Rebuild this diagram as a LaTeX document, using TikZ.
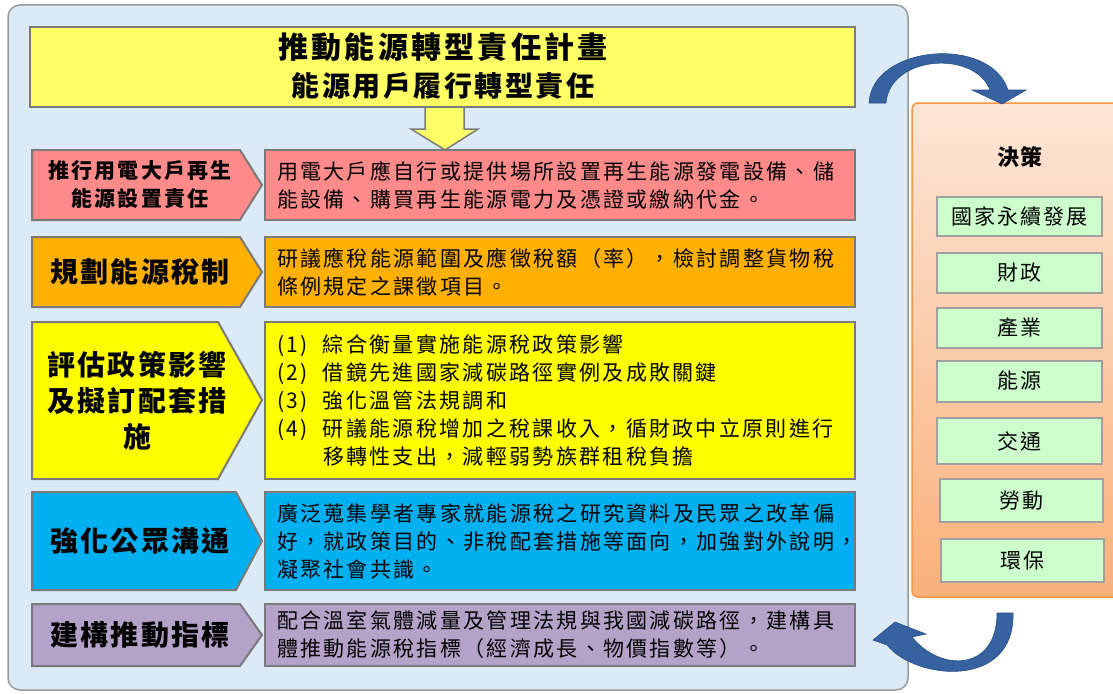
\documentclass[tikz,border=0pt]{standalone}
\usepackage{fontspec}
\setmainfont{Noto Sans CJK TC}[Script=CJK, Language=Chinese Traditional]
\definecolor{panelblue}{HTML}{DBEAF4}
\definecolor{panelgray}{HTML}{9A9A9A}
\definecolor{boxgray}{HTML}{7A7A7A}
\definecolor{titleyellow}{HTML}{FFFF66}
\definecolor{rowred}{HTML}{FF8A8A}
\definecolor{roworange}{HTML}{FFB000}
\definecolor{rowyellow}{HTML}{FFFF00}
\definecolor{rowblue}{HTML}{00B0F0}
\definecolor{rowpurple}{HTML}{B4A2C8}
\definecolor{peachtop}{HTML}{FDE6D6}
\definecolor{peachbot}{HTML}{F9B07A}
\definecolor{orangeedge}{HTML}{F79646}
\definecolor{greenfill}{HTML}{CCFFCC}
\definecolor{greenedge}{HTML}{A0A0A0}
\definecolor{arrowblue}{HTML}{36629F}
\definecolor{arrowedge}{HTML}{294F86}
\newcommand{\bodyfont}{\fontsize{21}{28}\selectfont\addfontfeatures{LetterSpace=11}}
\newcommand{\labelfont}{\fontsize{28}{36}\selectfont\bfseries\addfontfeatures{LetterSpace=8}}
\newcommand{\smalllabelfont}{\fontsize{21}{28}\selectfont\bfseries\addfontfeatures{LetterSpace=10}}
\newcommand{\greenfont}{\fontsize{21}{24}\selectfont\addfontfeatures{LetterSpace=10}}
\begin{document}
\begin{tikzpicture}[x=1pt,y=-1pt,
  box/.style={draw=boxgray, line width=2pt},
  rbox/.style={box, minimum width=590pt, text width=566pt, inner xsep=12pt, inner ysep=0pt, align=left, font=\bodyfont},
  lbl/.style={align=center, inner sep=0pt},
  gbox/.style={draw=greenedge, line width=2pt, fill=greenfill, minimum width=165pt, inner sep=0pt, font=\greenfont},
  blockarrow/.style={fill=arrowblue, draw=arrowedge, line width=0.6pt}]
\useasboundingbox (0,0) rectangle (1113,693);
\fill[white] (0,0) rectangle (1113,693);
% main panel
\draw[panelgray, line width=1.5pt, fill=panelblue, rounded corners=12pt] (8,5) rectangle (908,690);
% right panel
\draw[orangeedge, line width=1.5pt, top color=peachtop, bottom color=peachbot, rounded corners=6pt] (912,103) rectangle (1130,597);
% title
\node[box, fill=titleyellow, minimum width=825pt, minimum height=80pt, inner sep=0pt] (title) at (442.5,67) {};
\node[lbl, font=\fontsize{30}{38}\selectfont\bfseries\addfontfeatures{LetterSpace=11}] (t1) at (443,47) {推動能源轉型責任計畫};
\node[lbl, font=\fontsize{28}{36}\selectfont\bfseries\addfontfeatures{LetterSpace=9}] (t2) at (443,86) {能源用戶履行轉型責任};
% down arrow
\draw[box, line width=1.5pt, fill=titleyellow, line join=miter] (425,108) -- (425,129) -- (411,129) -- (445,150) -- (478,129) -- (464,129) -- (464,108);
% row 1
\draw[box, fill=rowred] (32,150) -- (240,150) -- (262,185) -- (240,220) -- (32,220) -- cycle;
\node[lbl, font=\smalllabelfont] (l1) at (140,185) {推行用電大戶再生\\能源設置責任};
\node[rbox, fill=rowred, minimum height=70pt] (r1) at (560,185) {用電大戶應自行或提供場所設置再生能源發電設備、儲\\能設備、購買再生能源電力及憑證或繳納代金。};
% row 2
\draw[box, fill=roworange] (32,237) -- (240,237) -- (262,272) -- (240,307) -- (32,307) -- cycle;
\node[lbl, font=\labelfont] (l2) at (140,272) {規劃能源稅制};
\node[rbox, fill=roworange, minimum height=70pt] (r2) at (560,272) {研議應稅能源範圍及應徵稅額（率），檢討調整貨物稅\\條例規定之課徵項目。};
% row 3
\draw[box, fill=rowyellow] (32,322) -- (218,322) -- (262,400) -- (218,479) -- (32,479) -- cycle;
\node[lbl, font=\labelfont] (l3) at (137,401) {評估政策影響\\及擬訂配套措\\施};
\node[rbox, fill=rowyellow, minimum height=157pt] (r3) at (560,400.5) {\makebox[46pt][l]{(1)}綜合衡量實施能源稅政策影響\\\makebox[46pt][l]{(2)}借鏡先進國家減碳路徑實例及成敗關鍵\\\makebox[46pt][l]{(3)}強化溫管法規調和\\\makebox[46pt][l]{(4)}研議能源稅增加之稅課收入，循財政中立原則進行\\\makebox[46pt][l]{}移轉性支出，減輕弱勢族群租稅負擔};
% row 4
\draw[box, fill=rowblue] (32,492) -- (236,492) -- (262,541) -- (236,590) -- (32,590) -- cycle;
\node[lbl, font=\labelfont] (l4) at (140,541) {強化公眾溝通};
\node[rbox, fill=rowblue, minimum height=98pt] (r4) at (560,541) {廣泛蒐集學者專家就能源稅之研究資料及民眾之改革偏\\好，就政策目的、非稅配套措施等面向，加強對外說明，\\凝聚社會共識。};
% row 5
\draw[box, fill=rowpurple] (32,604) -- (240,604) -- (262,635) -- (240,666) -- (32,666) -- cycle;
\node[lbl, font=\labelfont] (l5) at (140,635) {建構推動指標};
\node[rbox, fill=rowpurple, minimum height=62pt] (r5) at (560,635) {配合溫室氣體減量及管理法規與我國減碳路徑，建構具\\體推動能源稅指標（經濟成長、物價指數等）。};
% right panel content
\node[lbl, font=\fontsize{22}{26}\selectfont\bfseries\addfontfeatures{LetterSpace=6}] (jc) at (1020,157) {決策};
\node[gbox, minimum height=39pt] (g1) at (1019.5,216.5) {國家永續發展};
\node[gbox, minimum height=40pt] (g2) at (1019.5,273) {財政};
\node[gbox, minimum height=40pt] (g3) at (1019.5,328) {產業};
\node[gbox, minimum height=41pt] (g4) at (1019.5,381) {能源};
\node[gbox, minimum height=46pt] (g5) at (1019.5,441) {交通};
\node[gbox, minimum height=43pt, minimum width=163pt] (g6) at (1021.5,500.5) {勞動};
\node[gbox, minimum height=43pt, minimum width=163pt] (g7) at (1022.5,560.5) {環保};
% curved arrows
\path[blockarrow] (869,103) .. controls (872,45) and (990,35) .. (1008,90) -- (1026,90) -- (1002,104) -- (972,90) -- (990,90) .. controls (975,50) and (890,55) .. (886,103) -- cycle;
\path[blockarrow] (1013,613) .. controls (1015,690) and (915,680) .. (887,645) -- (873,640) -- (895,622) -- (926,634) -- (912,637) .. controls (940,672) and (997,672) .. (997,613) -- cycle;
\end{tikzpicture}
\end{document}
